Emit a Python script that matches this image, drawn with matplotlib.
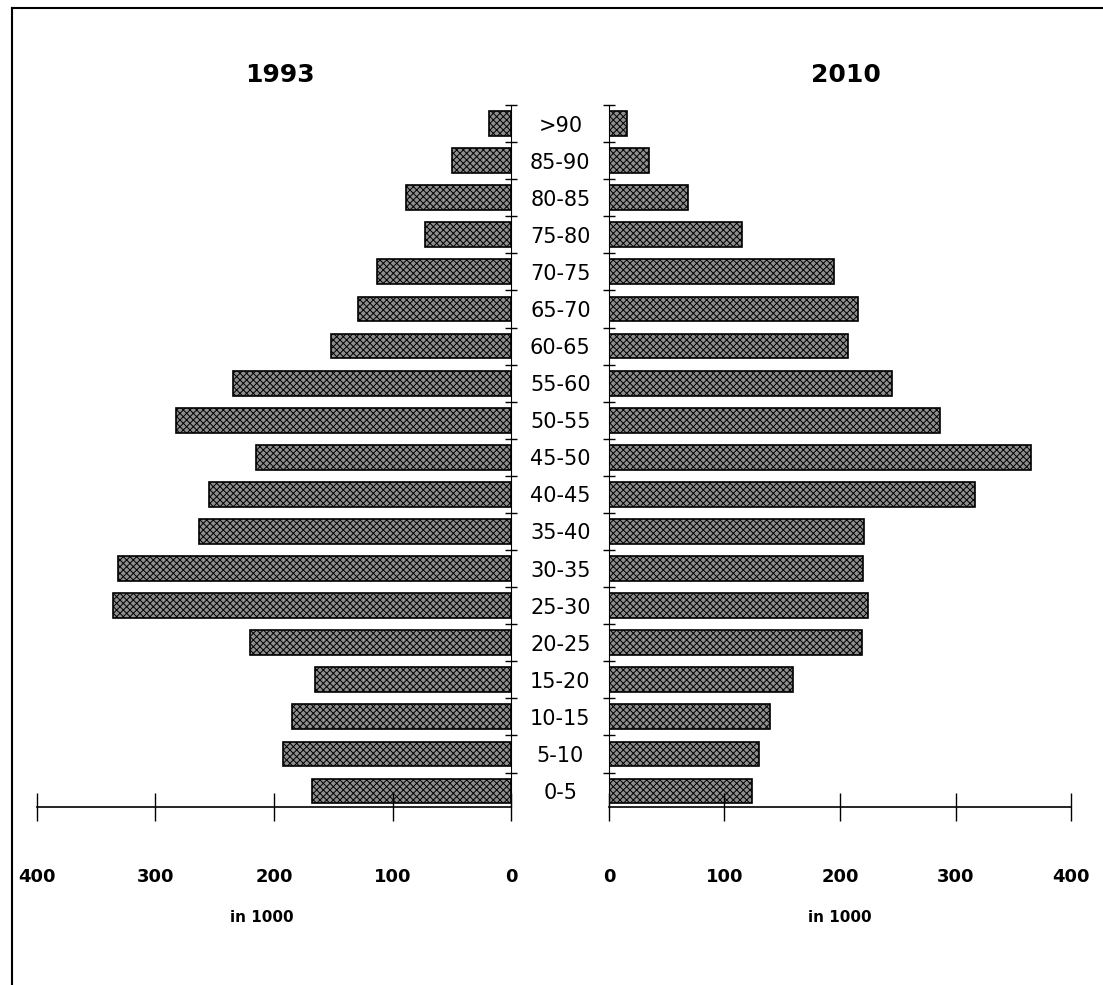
import numpy as np
import matplotlib
matplotlib.use("Agg")
import matplotlib.pyplot as plt
from matplotlib.ticker import FixedLocator

# Altersgruppen (unten nach oben)
ages = ["0-5", "5-10", "10-15", "15-20", "20-25", "25-30", "30-35", "35-40",
        "40-45", "45-50", "50-55", "55-60", "60-65", "65-70", "70-75",
        "75-80", "80-85", "85-90", ">90"]

# Bevoelkerung in 1000
pop_1993 = [168, 192, 185, 165, 220, 336, 332, 263, 255, 215, 283, 235,
            152, 129, 113, 73, 89, 50, 19]
pop_2010 = [124, 130, 139, 159, 219, 224, 220, 221, 317, 365, 287, 245,
            207, 216, 195, 115, 68, 35, 16]

xticks = [0, 100, 200, 300, 400]

plt.rcParams["hatch.linewidth"] = 0.7

fig = plt.figure(figsize=(11.03, 9.85), dpi=100)
ax_l = fig.add_axes([0.0335, 0.1807, 0.4298, 0.7127])
ax_r = fig.add_axes([0.5521, 0.1807, 0.4189, 0.7127])

y = np.arange(len(ages))
bar_style = dict(height=0.67, color="#8e8e8e", edgecolor="black",
                 hatch="xxxxx", linewidth=1.2)

ax_l.barh(y, pop_1993, **bar_style)
ax_r.barh(y, pop_2010, **bar_style)

for ax in (ax_l, ax_r):
    ax.set_ylim(-0.43, 18.5)
    ax.spines["top"].set_visible(False)
    ax.set_xticks(xticks)
    ax.tick_params(axis="x", direction="inout", length=20, width=1.0,
                   pad=34, labelsize=13)
    for lab in ax.get_xticklabels():
        lab.set_fontweight("bold")
    ax.yaxis.set_minor_locator(FixedLocator(np.arange(-0.5, 19, 1.0)))
    ax.tick_params(axis="y", which="minor", direction="inout", length=9,
                   width=1.0)
    ax.spines["bottom"].set_linewidth(1.2)

# links: 1993, gespiegelt
ax_l.set_xlim(400, 0)
ax_l.spines["left"].set_visible(False)
ax_l.yaxis.tick_right()
ax_l.set_yticks(y)
ax_l.set_yticklabels([])
ax_l.tick_params(axis="y", which="major", length=0)

# rechts: 2010, Altersgruppen in der Mitte
ax_r.set_xlim(0, 400)
ax_r.spines["right"].set_visible(False)
ax_r.set_yticks(y)
ax_r.set_yticklabels(ages)
ax_r.tick_params(axis="y", which="major", length=0, pad=35)
for lab in ax_r.get_yticklabels():
    lab.set_horizontalalignment("center")
    lab.set_fontsize(15)

# Titel und Einheiten
fig.text(280 / 1103, 1 - 75 / 985, "1993", fontsize=18, fontweight="bold",
         ha="center", va="center")
fig.text(846 / 1103, 1 - 75 / 985, "2010", fontsize=18, fontweight="bold",
         ha="center", va="center")
fig.text(262 / 1103, 1 - 918 / 985, "in 1000", fontsize=11, fontweight="bold",
         ha="center", va="center")
fig.text(840 / 1103, 1 - 918 / 985, "in 1000", fontsize=11, fontweight="bold",
         ha="center", va="center")

# Rahmen (oben und links)
fig.add_artist(plt.Line2D([12 / 1103, 1], [1 - 8 / 985, 1 - 8 / 985],
                          color="black", linewidth=1.5))
fig.add_artist(plt.Line2D([12 / 1103, 12 / 1103], [0, 1 - 8 / 985],
                          color="black", linewidth=1.5))

fig.savefig("out.png", dpi=100)
